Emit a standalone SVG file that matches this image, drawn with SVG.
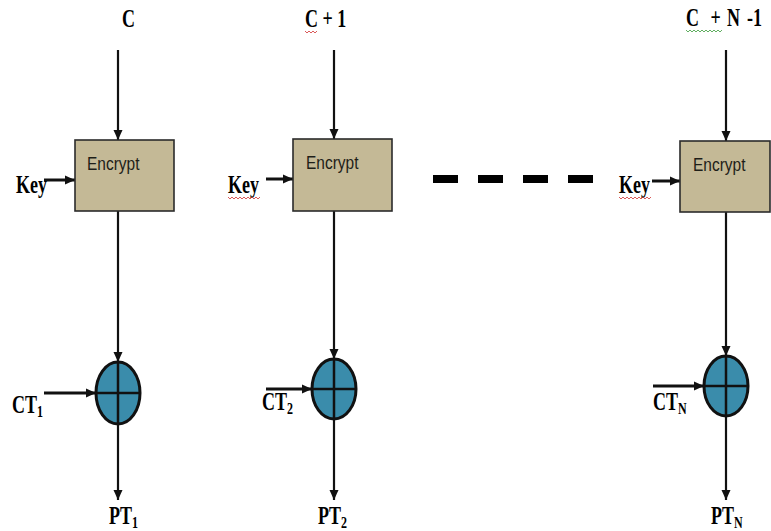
<svg xmlns="http://www.w3.org/2000/svg" width="771" height="531" viewBox="0 0 771 531">
<defs>
<style>
.lbl{font-family:"Liberation Serif","Times New Roman",serif;font-weight:bold;font-size:18px;fill:#000}
.sub{font-size:12px}
.enc{font-family:"Liberation Sans",Arial,sans-serif;font-size:15.5px;fill:#1e1e18}
.box{fill:#c4b996;stroke:#2b2b2b;stroke-width:1.6}
.xor{fill:#3a8cab;stroke:#111;stroke-width:3}
.cross{stroke:#111;stroke-width:2.5}
.v{stroke:#111;stroke-width:2.2;fill:none}
.h{stroke:#111;stroke-width:3;fill:none}
.wr{fill:none;stroke:#d03030;stroke-width:0.8}
.wg{fill:none;stroke:#3a9a3a;stroke-width:0.8}
.dash{fill:#000}
</style>
<marker id="ah" viewBox="0 0 10 10" refX="10" refY="5" markerWidth="10" markerHeight="10" markerUnits="userSpaceOnUse" orient="auto">
<path d="M0,0.5 L10,5 L0,9.5 z" fill="#111"/>
</marker>
</defs>
<g id="connectors">
<line class="v" x1="118" y1="50" x2="118" y2="140" marker-end="url(#ah)"/>
<line class="v" x1="334" y1="50" x2="334" y2="139" marker-end="url(#ah)"/>
<line class="v" x1="726" y1="50" x2="726" y2="141" marker-end="url(#ah)"/>
<line class="h" x1="44" y1="180" x2="75" y2="180" marker-end="url(#ah)"/>
<line class="h" x1="266" y1="179" x2="293" y2="179" marker-end="url(#ah)"/>
<line class="h" x1="652" y1="181" x2="680" y2="181" marker-end="url(#ah)"/>
<line class="v" x1="118" y1="211" x2="118" y2="362" marker-end="url(#ah)"/>
<line class="v" x1="334" y1="211" x2="334" y2="359" marker-end="url(#ah)"/>
<line class="v" x1="726" y1="212" x2="726" y2="356" marker-end="url(#ah)"/>
<line class="h" x1="44" y1="393" x2="96" y2="393" marker-end="url(#ah)"/>
<line class="h" x1="266" y1="389" x2="312" y2="389" marker-end="url(#ah)"/>
<line class="h" x1="653" y1="386" x2="704" y2="386" marker-end="url(#ah)"/>
<line class="v" x1="118" y1="424" x2="118" y2="500" marker-end="url(#ah)"/>
<line class="v" x1="334" y1="419" x2="334" y2="500" marker-end="url(#ah)"/>
<line class="v" x1="726" y1="416" x2="726" y2="500" marker-end="url(#ah)"/>
</g>
<g id="encrypt1">
<rect class="box" x="75" y="140" width="99" height="71"/>
<text class="enc" transform="translate(87,170) scale(1,1.15)">Encrypt</text>
</g>
<g id="encrypt2">
<rect class="box" x="293" y="139" width="99" height="72"/>
<text class="enc" transform="translate(306,169) scale(1,1.15)">Encrypt</text>
</g>
<g id="encryptN">
<rect class="box" x="680" y="141" width="90" height="71"/>
<text class="enc" transform="translate(693,171) scale(1,1.15)">Encrypt</text>
</g>
<g id="xor1">
<ellipse class="xor" cx="118" cy="393" rx="22" ry="31"/>
<line class="cross" x1="96" y1="393" x2="140" y2="393"/>
<line class="cross" x1="118" y1="362" x2="118" y2="424"/>
</g>
<g id="xor2">
<ellipse class="xor" cx="334" cy="389" rx="22" ry="30"/>
<line class="cross" x1="312" y1="389" x2="356" y2="389"/>
<line class="cross" x1="334" y1="359" x2="334" y2="419"/>
</g>
<g id="xorN">
<ellipse class="xor" cx="726" cy="386" rx="22" ry="30"/>
<line class="cross" x1="704" y1="386" x2="748" y2="386"/>
<line class="cross" x1="726" y1="356" x2="726" y2="416"/>
</g>
<g id="dots">
<rect class="dash" x="433" y="175" width="25" height="8"/>
<rect class="dash" x="478" y="175" width="25" height="8"/>
<rect class="dash" x="523" y="175" width="25" height="8"/>
<rect class="dash" x="568" y="175" width="25" height="8"/>
</g>
<g id="labels">
<text class="lbl" transform="translate(122,27) scale(1,1.35)">C</text>
<text class="lbl" transform="translate(305,27) scale(1,1.35)">C + 1</text>
<text class="lbl" transform="translate(686,26) scale(1,1.35)"><tspan x="0">C</tspan><tspan x="20"> +</tspan><tspan x="41">N</tspan><tspan x="61">-1</tspan></text>
<text class="lbl" transform="translate(16,193) scale(1,1.35)">Key</text>
<text class="lbl" transform="translate(228,193) scale(1,1.35)">Key</text>
<text class="lbl" transform="translate(619,193) scale(1,1.35)">Key</text>
<text class="lbl" transform="translate(12,413) scale(1,1.35)">CT<tspan class="sub" dy="3">1</tspan></text>
<text class="lbl" transform="translate(262,410) scale(1,1.35)">CT<tspan class="sub" dy="3">2</tspan></text>
<text class="lbl" transform="translate(653,410) scale(1,1.35)">CT<tspan class="sub" dy="3">N</tspan></text>
<text class="lbl" transform="translate(109,524) scale(1,1.35)">PT<tspan class="sub" dy="3">1</tspan></text>
<text class="lbl" transform="translate(318,524) scale(1,1.35)">PT<tspan class="sub" dy="3">2</tspan></text>
<text class="lbl" transform="translate(711,524) scale(1,1.35)">PT<tspan class="sub" dy="3">N</tspan></text>
</g>
<g id="squiggles">
<polyline class="wr" points="305,31 307,33 309,31 311,33 313,31 315,33 317,31"/>
<polyline class="wr" points="228,197 230,199 232,197 234,199 236,197 238,199 240,197 242,199 244,197 246,199 248,197 250,199 252,197 254,199 256,197 258,199 260,197"/>
<polyline class="wr" points="619,197 621,199 623,197 625,199 627,197 629,199 631,197 633,199 635,197 637,199 639,197 641,199 643,197 645,199 647,197 649,199 651,197"/>
<polyline class="wg" points="686,30 688,32 690,30 692,32 694,30 696,32 698,30 700,32 702,30 704,32 706,30 708,32 710,30 712,32 714,30 716,32 718,30 720,32 722,30"/>
</g>
</svg>
